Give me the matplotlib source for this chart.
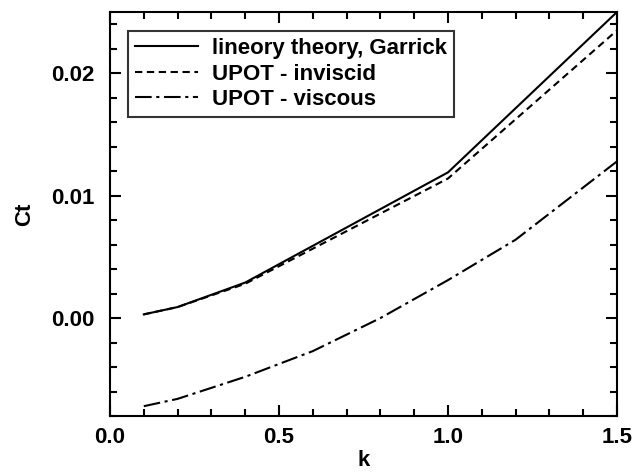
import matplotlib
matplotlib.use("Agg")
import matplotlib.pyplot as plt
from matplotlib.ticker import MultipleLocator, FormatStrFormatter

plt.rcParams['font.family'] = ['Liberation Sans', 'DejaVu Sans']
plt.rcParams['font.weight'] = 'bold'

# Thrust coefficient vs reduced frequency
k_theory = [0.1, 0.2, 0.4, 1.0, 1.5]
ct_theory = [0.0003, 0.0009, 0.0029, 0.0119, 0.0250]

k_inviscid = [0.1, 0.2, 0.4, 1.0, 1.5]
ct_inviscid = [0.0003, 0.0009, 0.0028, 0.0114, 0.0235]

k_viscous = [0.1, 0.2, 0.4, 0.6, 0.8, 1.0, 1.2, 1.5]
ct_viscous = [-0.0072, -0.0066, -0.0048, -0.0027, 0.0000, 0.0031, 0.0064, 0.0128]

labels = ["lineory theory, Garrick", "UPOT - inviscid", "UPOT - viscous"]

fs = 16

fig = plt.figure(figsize=(6.34, 4.74), dpi=100)
ax = fig.add_axes([110 / 634, 58 / 474, 507 / 634, 404 / 474])

lw = 1.5
ax.plot(k_theory, ct_theory, color='black', lw=lw, linestyle='-', label=labels[0])
ax.plot(k_inviscid, ct_inviscid, color='black', lw=lw, linestyle=(0, (3.5, 2.2)), label=labels[1])
ax.plot(k_viscous, ct_viscous, color='black', lw=lw,
        linestyle=(0, (8, 2.2, 1.5, 2.2)), label=labels[2])

ax.set_xlim(0.0, 1.5)
ax.set_ylim(-0.008, 0.025)
ax.xaxis.set_major_locator(MultipleLocator(0.5))
ax.xaxis.set_minor_locator(MultipleLocator(0.1))
ax.yaxis.set_major_locator(MultipleLocator(0.01))
ax.yaxis.set_minor_locator(MultipleLocator(0.002))
ax.xaxis.set_major_formatter(FormatStrFormatter('%.1f'))
ax.yaxis.set_major_formatter(FormatStrFormatter('%.2f'))

for s in ax.spines.values():
    s.set_linewidth(1.5)
ax.tick_params(which='both', direction='in', top=True, right=True, width=1.5)
ax.tick_params(which='major', length=8, labelsize=fs)
ax.tick_params(which='minor', length=5)
ax.tick_params(axis='x', which='major', pad=8)
ax.tick_params(axis='y', which='major', pad=11)

ax.set_xlabel('k', fontsize=fs, fontweight='bold', labelpad=1)
ax.set_ylabel('Ct', fontsize=fs, fontweight='bold', labelpad=12)

leg = ax.legend(loc='upper left', bbox_to_anchor=(0.0355, 0.953), borderaxespad=0,
                fontsize=fs, frameon=True, fancybox=False, edgecolor='black',
                handlelength=2.85, handletextpad=0.6, borderpad=0.32,
                labelspacing=0.2)
leg.get_frame().set_linewidth(1.5)
for t in leg.get_texts():
    t.set_fontweight('bold')

fig.savefig('out.png', dpi=100)
